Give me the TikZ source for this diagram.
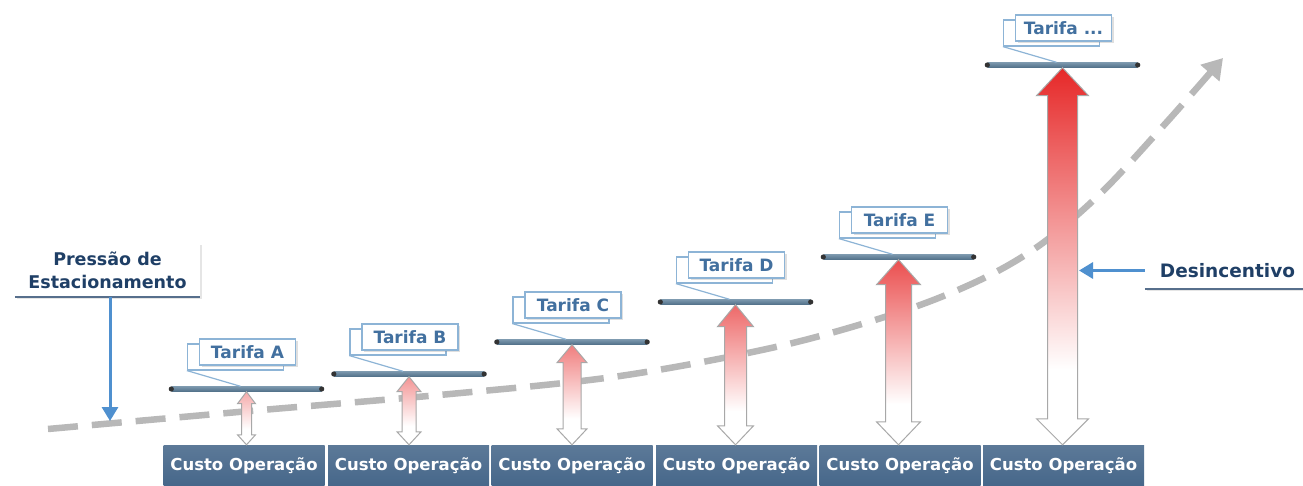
\documentclass[tikz,border=0pt]{standalone}
\usepackage{fontspec}
\setmainfont{DejaVu Sans}
\usetikzlibrary{arrows.meta,shadows,calc}
\definecolor{navy}{HTML}{1F3F66}
\definecolor{steel}{HTML}{42709F}
\definecolor{boxblue}{HTML}{46678A}
\definecolor{barblue}{HTML}{5A7D98}
\definecolor{callblue}{HTML}{8DB4D6}
\definecolor{arrowblue}{HTML}{4F90CF}
\definecolor{dashgray}{HTML}{B8B8B8}
\definecolor{outlinegray}{HTML}{A8A8A8}
\definecolor{hotred}{HTML}{E62828}
\colorlet{topA}{hotred!40!white}
\colorlet{topB}{hotred!50!white}
\colorlet{topC}{hotred!60!white}
\colorlet{topD}{hotred!70!white}
\colorlet{topE}{hotred!82!white}
\colorlet{topF}{hotred}
\pgfdeclareverticalshading{fadeA}{100bp}{color(0bp)=(white); color(40bp)=(white); color(75bp)=(topA); color(100bp)=(topA)}
\pgfdeclareverticalshading{fadeB}{100bp}{color(0bp)=(white); color(39bp)=(white); color(75bp)=(topB); color(100bp)=(topB)}
\pgfdeclareverticalshading{fadeC}{100bp}{color(0bp)=(white); color(38bp)=(white); color(75bp)=(topC); color(100bp)=(topC)}
\pgfdeclareverticalshading{fadeD}{100bp}{color(0bp)=(white); color(37bp)=(white); color(75bp)=(topD); color(100bp)=(topD)}
\pgfdeclareverticalshading{fadeE}{100bp}{color(0bp)=(white); color(36bp)=(white); color(75bp)=(topE); color(100bp)=(topE)}
\pgfdeclareverticalshading{fadeF}{100bp}{color(0bp)=(white); color(35bp)=(white); color(75bp)=(topF); color(100bp)=(topF)}
\newcommand\fatarrow[7]{\shadedraw[shading=#7,draw=outlinegray,line width=1pt,line join=miter]
 (#1) -- ($(#1)+(#4,#5)$) -- ($(#1)+(#3,#5)$) -- ($(#2)+(#3,-#6)$) -- ($(#2)+(#4,-#6)$) -- (#2) -- ($(#2)+(-#4,-#6)$) -- ($(#2)+(-#3,-#6)$) -- ($(#1)+(-#3,#5)$) -- ($(#1)+(-#4,#5)$) -- cycle;}
\begin{document}
\begin{tikzpicture}[x=1pt,y=-1pt,
  custobox/.style={rectangle, minimum width=161pt, minimum height=41pt, inner sep=0pt,
    top color=boxblue!88!white, bottom color=boxblue, text=white,
    font=\fontsize{16.5}{18}\selectfont\bfseries},
  barnode/.style={rectangle, minimum width=150pt, minimum height=5pt, inner sep=0pt,
    top color=barblue!80!white, bottom color=barblue!90!black},
  tarifabox/.style={rectangle, draw=callblue, line width=1.2pt, fill=white,
    minimum width=96pt, minimum height=26pt, inner sep=0pt, text=steel,
    font=\fontsize{17}{20}\selectfont\bfseries,
    drop shadow={shadow xshift=2pt, shadow yshift=-2pt, opacity=0.25}},
  backframe/.style={rectangle, draw=callblue, line width=1.2pt, fill=white,
    minimum width=96pt, minimum height=26pt, inner sep=0pt},
  callline/.style={draw=callblue, line width=1.2pt},
  notebox/.style={rectangle, fill=white, inner sep=0pt, text=navy, align=center,
    font=\fontsize{17.5}{23}\selectfont\bfseries,
    drop shadow={shadow xshift=1.5pt, shadow yshift=-2pt, opacity=0.2}},
  noteline/.style={draw=navy!75!white, line width=2.5pt},
  bluearr/.style={draw=arrowblue, line width=3pt, -{Triangle[width=16pt,length=14pt]}},
  dotend/.style={fill=black!80}
]
\useasboundingbox[fill=white] (0,0) rectangle (1303,486);

% rising dashed curve
\coordinate (d0) at (48,429);
\coordinate (d9) at (1223,58);
\draw[dashgray, line width=6.5pt, dash pattern=on 30pt off 14pt,
  -{Triangle[width=24pt,length=20pt]}]
  plot[smooth, tension=0.55] coordinates {(d0) (250,411) (450,394) (620,376) (780,346) (900,312) (980,280) (1040,245) (1100,194) (1165,124) (d9)};

% cost boxes
\node[custobox] (c1) at (244,465.5) {Custo Operação};
\node[custobox] (c2) at (408.5,465.5) {Custo Operação};
\node[custobox] (c3) at (572,465.5) {Custo Operação};
\node[custobox] (c4) at (736.5,465.5) {Custo Operação};
\node[custobox] (c5) at (900,465.5) {Custo Operação};
\node[custobox] (c6) at (1063.5,465.5) {Custo Operação};

% tariff bars
\node[barnode] (b1) at (246.5,389) {};
\node[barnode] (b2) at (409,374) {};
\node[barnode] (b3) at (572,342) {};
\node[barnode] (b4) at (735.5,302) {};
\node[barnode] (b5) at (898.5,257) {};
\node[barnode] (b6) at (1062.5,65) {};
\foreach \b in {b1,b2,b3,b4,b5,b6}{
  \fill[dotend] (\b.west) circle (2.6);
  \fill[dotend] (\b.east) circle (2.6);
}

% double arrows between bars and cost boxes
\coordinate (a1t) at (b1.south); \coordinate (a1b) at (b1.south |- c1.north);
\coordinate (a2t) at (b2.south); \coordinate (a2b) at (b2.south |- c2.north);
\coordinate (a3t) at (b3.south); \coordinate (a3b) at (b3.south |- c3.north);
\coordinate (a4t) at (b4.south); \coordinate (a4b) at (b4.south |- c4.north);
\coordinate (a5t) at (b5.south); \coordinate (a5b) at (b5.south |- c5.north);
\coordinate (a6t) at (b6.south); \coordinate (a6b) at (b6.south |- c6.north);
\fatarrow{a1t}{a1b}{5}{9}{12}{10}{fadeA}
\fatarrow{a2t}{a2b}{7}{12}{15}{13}{fadeB}
\fatarrow{a3t}{a3b}{9}{15}{18}{16}{fadeC}
\fatarrow{a4t}{a4b}{11}{18}{22}{19}{fadeD}
\fatarrow{a5t}{a5b}{13}{22}{25}{23}{fadeE}
\fatarrow{a6t}{a6b}{15}{26}{28}{26}{fadeF}

% tariff callouts
\node[backframe] (k1) at (235.5,357) {};
\node[backframe] (k2) at (398,342) {};
\node[backframe] (k3) at (561,310) {};
\node[backframe] (k4) at (724.5,270) {};
\node[backframe] (k5) at (887.5,225) {};
\node[backframe] (k6) at (1051.5,33) {};
\draw[callline] (k1.south west) -- ([xshift=-6pt]b1.north);
\draw[callline] (k2.south west) -- ([xshift=-6pt]b2.north);
\draw[callline] (k3.south west) -- ([xshift=-6pt]b3.north);
\draw[callline] (k4.south west) -- ([xshift=-6pt]b4.north);
\draw[callline] (k5.south west) -- ([xshift=-6pt]b5.north);
\draw[callline] (k6.south west) -- ([xshift=-6pt]b6.north);
\node[tarifabox] (t1) at (247.5,352) {Tarifa A};
\node[tarifabox] (t2) at (410,337) {Tarifa B};
\node[tarifabox] (t3) at (573,305) {Tarifa C};
\node[tarifabox] (t4) at (736.5,265) {Tarifa D};
\node[tarifabox] (t5) at (899.5,220) {Tarifa E};
\node[tarifabox] (t6) at (1063.5,28) {Tarifa ...};

% side notes
\node[notebox, minimum width=185pt, minimum height=54pt] (pres) at (107.5,270) {Pressão de\\Estacionamento};
\draw[noteline] (pres.south west) -- (pres.south east);
\coordinate (ptip) at (110,421);
\draw[bluearr] (ptip |- pres.south) -- (ptip);

\node[notebox, minimum width=165pt, minimum height=37pt, font=\fontsize{18.5}{22}\selectfont\bfseries] (des) at (1227.5,270.5) {Desincentivo};
\draw[noteline] (des.south west) -- (des.south east);
\coordinate (dtip) at (1079,270.5);
\draw[bluearr] (des.west) -- (dtip);
\end{tikzpicture}
\end{document}
